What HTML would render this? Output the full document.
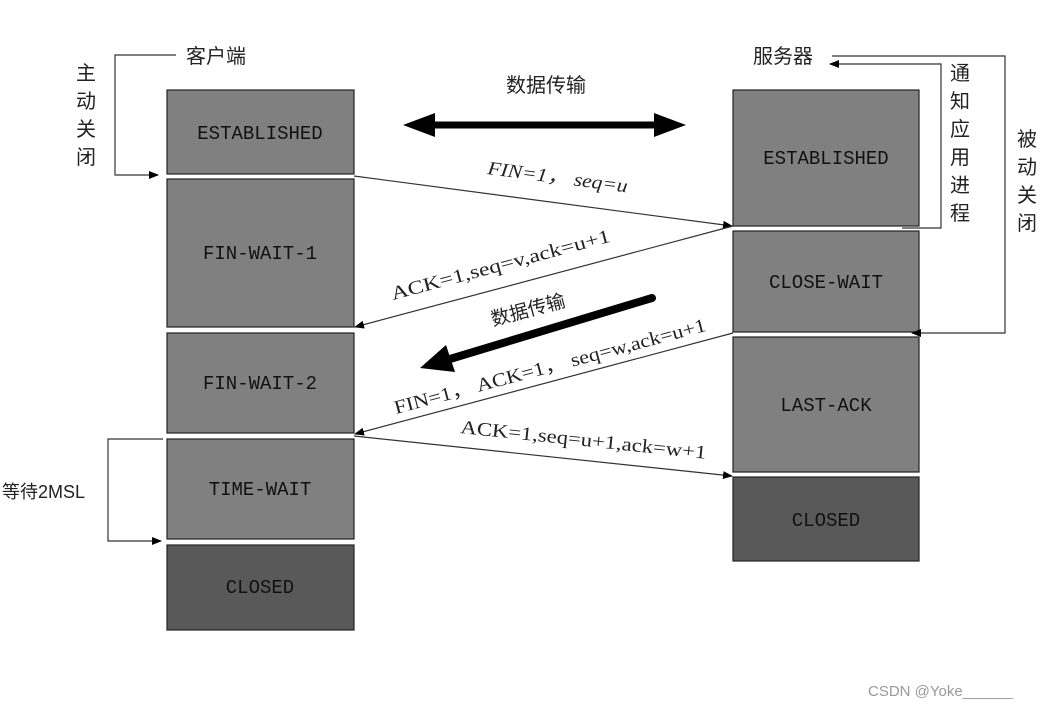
<!DOCTYPE html>
<html><head><meta charset="utf-8"><style>body{margin:0;background:#fff}svg{display:block}</style></head><body>
<svg width="1058" height="708" viewBox="0 0 1058 708" xmlns="http://www.w3.org/2000/svg">
<defs>
<marker id="a" markerWidth="10" markerHeight="8" refX="9" refY="4" orient="auto" markerUnits="userSpaceOnUse"><path d="M0,0 L10,4 L0,8 Z" fill="#000"/></marker>
</defs>
<g stroke="#222" stroke-width="1.2">
<rect x="167" y="90" width="187" height="84" fill="#808080"/>
<rect x="167" y="179" width="187" height="148" fill="#808080"/>
<rect x="167" y="333" width="187" height="100" fill="#808080"/>
<rect x="167" y="439" width="187" height="100" fill="#808080"/>
<rect x="167" y="545" width="187" height="85" fill="#595959"/>
<rect x="733" y="90" width="186" height="136" fill="#808080"/>
<rect x="733" y="231" width="186" height="101" fill="#808080"/>
<rect x="733" y="337" width="186" height="135" fill="#808080"/>
<rect x="733" y="477" width="186" height="84" fill="#595959"/>
</g>
<g font-family="Liberation Mono, monospace" font-size="19" fill="#111" text-anchor="middle">
<text x="260" y="139">ESTABLISHED</text>
<text x="260" y="259">FIN-WAIT-1</text>
<text x="260" y="389">FIN-WAIT-2</text>
<text x="260" y="495">TIME-WAIT</text>
<text x="260" y="593">CLOSED</text>
<text x="826" y="164">ESTABLISHED</text>
<text x="826" y="288">CLOSE-WAIT</text>
<text x="826" y="411">LAST-ACK</text>
<text x="826" y="526">CLOSED</text>
</g>
<g font-family="Liberation Sans, Noto Sans CJK SC, sans-serif" font-size="20" fill="#222">
<text x="186" y="63">客户端</text>
<text x="753" y="63">服务器</text>
<text x="506" y="92">数据传输</text>
<text x="2" y="498" font-size="18">等待2MSL</text>
</g>
<g font-family="Liberation Sans, Noto Sans CJK SC, sans-serif" font-size="20" fill="#222" text-anchor="middle">
<text x="86" y="80">主</text><text x="86" y="108">动</text><text x="86" y="136">关</text><text x="86" y="164">闭</text>
<text x="960" y="80">通</text><text x="960" y="108">知</text><text x="960" y="136">应</text><text x="960" y="164">用</text><text x="960" y="192">进</text><text x="960" y="220">程</text>
<text x="1027" y="146">被</text><text x="1027" y="174">动</text><text x="1027" y="202">关</text><text x="1027" y="230">闭</text>
</g>
<g fill="none" stroke="#333" stroke-width="1.2">
<polyline points="176,55 115,55 115,175 158,175" marker-end="url(#a)"/>
<polyline points="163,439 108,439 108,541 161,541" marker-end="url(#a)"/>
<polyline points="902,228 941,228 941,64 830,64" marker-end="url(#a)"/>
<polyline points="832,56 1005,56 1005,333 912,333" marker-end="url(#a)"/>
<line x1="354" y1="176" x2="732" y2="226" marker-end="url(#a)"/>
<line x1="733" y1="226" x2="355" y2="327" marker-end="url(#a)"/>
<line x1="733" y1="333" x2="355" y2="434" marker-end="url(#a)"/>
<line x1="354" y1="436" x2="732" y2="476" marker-end="url(#a)"/>
</g>
<line x1="430" y1="125" x2="660" y2="125" stroke="#000" stroke-width="7"/>
<path d="M403,125 L435,113 L435,137 Z M686,125 L654,113 L654,137 Z" fill="#000"/>
<line x1="652" y1="298" x2="450" y2="359" stroke="#000" stroke-width="8" stroke-linecap="round"/>
<path d="M420,368 L446,345 L455,372 Z" fill="#000"/>
<g font-family="Liberation Serif, Noto Sans CJK SC, serif" font-size="19" fill="#222">
<text transform="translate(487,174) rotate(7.5)" font-style="italic" textLength="141" lengthAdjust="spacingAndGlyphs">FIN=1， seq=u</text>
<text transform="translate(393,300) rotate(-15)" textLength="226" lengthAdjust="spacingAndGlyphs">ACK=1,seq=v,ack=u+1</text>
<text transform="translate(493,326) rotate(-15)" font-family="Liberation Sans, Noto Sans CJK SC, sans-serif" font-size="19">数据传输</text>
<text transform="translate(396,414) rotate(-15)" textLength="322" lengthAdjust="spacingAndGlyphs">FIN=1， ACK=1， seq=w,ack=u+1</text>
<text transform="translate(460,433) rotate(6)" textLength="247" lengthAdjust="spacingAndGlyphs">ACK=1,seq=u+1,ack=w+1</text>
</g>
<text x="868" y="696" font-family="Liberation Sans, sans-serif" font-size="15" fill="#999">CSDN @Yoke______</text>
</svg>
</body></html>
